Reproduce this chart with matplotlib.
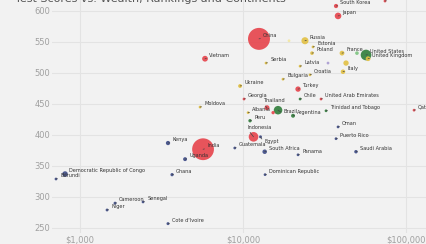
import numpy as np
import matplotlib.pyplot as plt

# values
countries = [
    "China", "India", "Vietnam", "South Korea", "Japan", "Singapore",
    "Russia", "", "Estonia", "Poland", "Serbia", "Latvia", "Bulgaria",
    "Croatia", "", "France", "United States", "", "United Kingdom", "Italy",
    "", "Ukraine", "Georgia", "Moldova", "Turkey", "Chile", "Albania",
    "Thailand", "", "Brazil", "Peru", "Argentina", "United Arab Emirates",
    "Trinidad and Tobago", "Qatar", "Indonesia", "Egypt", "South Africa",
    "Guatemala", "Kenya", "Uganda", "Ghana", "Dominican Republic", "Panama",
    "Saudi Arabia", "Puerto Rico", "Oman", "Democratic Republic of Congo",
    "Burundi", "Cameroon", "Senegal", "Niger", "Cote d'Ivoire",
]
gdp = [
    12530, 5685, 5845, 37200, 38280, 74300,
    23990, 19150, 26870, 26490, 13840, 22390, 17580,
    25760, 33220, 40480, 56840, 50000, 58500, 41050,
    42850, 9590, 10140, 5450, 21750, 22390, 10740,
    14030, 15290, 16400, 11040, 20270, 30100,
    32300, 112000, 11600, 12800, 13580,
    8900, 3465, 4410, 3670, 13650, 21750,
    49300, 37200, 38280, 809,
    712, 1640, 2435, 1465, 3465,
]
score = [
    555, 377, 523, 608, 592, 616,
    552, 552, 542, 532, 516, 511, 490,
    497, 516, 532, 529, 532, 523, 502,
    516, 479, 458, 445, 474, 458, 436,
    444, 436, 440, 423, 431, 458,
    439, 440, 397, 397, 373,
    379, 387, 361, 336, 336, 368,
    373, 394, 413, 337,
    329, 290, 292, 279, 257,
]
population = [
    1400, 1380, 97, 52, 126, 6,
    145, 20, 1, 38, 7, 2, 7,
    4, 3, 67, 330, 38, 67, 60,
    83, 44, 4, 3, 83, 19, 3,
    70, 32, 212, 33, 45, 10,
    1, 3, 270, 25, 59,
    17, 53, 45, 31, 11, 4,
    35, 3, 5, 90,
    12, 26, 16, 24, 26,
]
continent = [
    "Asia", "Asia", "Asia", "Asia", "Asia", "Asia",
    "Europe", "Europe2", "Europe", "Europe", "Europe", "Europe", "Europe",
    "Europe", "Other", "Europe", "Americas", "Americas2", "Europe", "Europe",
    "Europe", "Europe", "Asia", "Europe", "Asia", "Americas", "Europe",
    "Asia", "Asia", "Americas", "Americas", "Americas", "Asia",
    "Americas", "Asia", "Asia", "Africa", "Africa",
    "Africa", "Africa", "Africa", "Africa", "Africa", "Africa",
    "Africa", "Africa", "Africa", "Africa",
    "Africa", "Africa", "Africa", "Africa", "Africa",
]

palette = {
    "Asia": "#e6434b",
    "Europe": "#e2c043",
    "Europe2": "#f3e7a0",
    "Americas": "#2f7d3a",
    "Americas2": "#7cc47f",
    "Africa": "#3c4a86",
    "Other": "#a99bd1",
}

# labels that need a different offset so they don't collide
label_offset = {
    "Indonesia": (-4, 7),
    "Egypt": (3, -3),
    "Thailand": (-3, 5),
    "Brazil": (4, -1),
}

bg = "#f2f2f2"
fig = plt.figure(figsize=(4.27, 2.44), dpi=100, facecolor=bg)
ax = fig.add_axes([52 / 427, 11 / 244, 1 - 52 / 427, 1 - 11 / 244])
ax.set_facecolor(bg)

sizes = np.maximum(250 * np.array(population) / 1400, 4)
cols = [palette[c] for c in continent]
order = np.argsort(-sizes)
ax.scatter(np.array(gdp)[order], np.array(score)[order], s=sizes[order],
           c=[cols[i] for i in order], alpha=0.9, linewidths=0, zorder=3)

for name, x, y in zip(countries, gdp, score):
    if not name:
        continue
    ax.annotate(name, (x, y), xytext=label_offset.get(name, (3, 2.5)),
                textcoords="offset points",
                fontsize=3.6, color="#333333", ha="left", va="center",
                arrowprops=dict(arrowstyle="-", color="#444444", lw=0.5,
                                shrinkA=0, shrinkB=0, relpos=(0, 0)),
                zorder=4, annotation_clip=False)

ax.set_xscale("log")
ax.set_xlim(673, 134500)
ax.set_ylim(241.9, 617.7)
ax.set_xticks([1000, 10000, 100000])
ax.set_xticklabels(["$1,000", "$10,000", "$100,000"])
ax.set_yticks([250, 300, 350, 400, 450, 500, 550, 600])
ax.minorticks_off()
ax.tick_params(length=0, labelsize=6, labelcolor="#a0a0a0", pad=1.5)
ax.grid(True, color="#e3e3e3", lw=0.8, zorder=0)
ax.set_axisbelow(True)
for s in ax.spines.values():
    s.set_visible(False)

fig.text(0.035, 1 - 2.5 / 244, "Test Scores vs. Wealth, Rankings and Continents",
         fontsize=8, color="#555555", va="baseline")

fig.savefig("out.png", dpi=100, facecolor=bg)
